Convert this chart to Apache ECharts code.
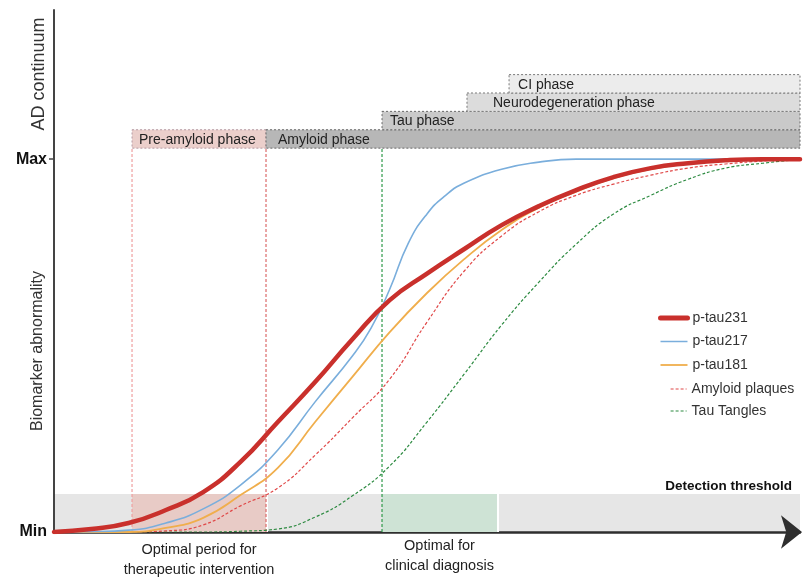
<!DOCTYPE html>
<html><head><meta charset="utf-8">
<script src="https://cdn.jsdelivr.net/npm/echarts@6/dist/echarts.min.js"></script>
<style>html,body{margin:0;padding:0;background:#fff}#c{width:803px;height:577px}</style>
</head><body><div id="c"></div>
<script>
// ---------- data ----------
const xVals = [0,5,10,15,20,25,30,35,40,45,50,55,60,65,70,75,80,85,90,95,100];
const pTau231 = [0,0.008,0.024,0.059,0.107,0.188,0.295,0.402,0.517,0.622,0.693,0.759,0.823,0.874,0.917,0.952,0.976,0.989,0.997,1.0,1.0];
const pTau217X = [0,5,10,15,20,25,30,35,40,42.5,45,47.5,50,52.5,55,60,65,70,75,80,85,90,95,100];
const pTau217 = [0,0.001,0.005,0.024,0.062,0.126,0.22,0.349,0.472,0.547,0.651,0.775,0.853,0.903,0.936,0.973,0.992,1.0,1.0,1.0,1.0,1.0,1.0,1.0];
const pTau181 = [0,0,0,0.011,0.038,0.099,0.172,0.295,0.416,0.536,0.641,0.732,0.81,0.87,0.913,0.949,0.973,0.989,0.997,0.999,1.0];
const amyloidPlaques = [0,0,0,0.003,0.019,0.07,0.118,0.206,0.306,0.41,0.563,0.70,0.794,0.859,0.903,0.933,0.957,0.976,0.987,0.995,1.0];
const tauTangles = [0,0,0,0,0,0.002,0.008,0.04,0.097,0.177,0.295,0.424,0.555,0.67,0.772,0.853,0.903,0.946,0.976,0.989,1.0];

const phaseNames = ['Pre-amyloid phase','Amyloid phase','Tau phase','Neurodegeneration phase','CI phase'];
const phaseStart = [10.46,28.42,43.97,55.36,61.0];
const phaseEnd = [28.42,100,100,100,100];
const phaseRow = [0,0,1,2,3];

const windowNames = ['Optimal period for\ntherapeutic intervention','Optimal for\nclinical diagnosis'];
const windowStart = [10.46,43.97];
const windowEnd = [28.42,59.38];
const detectionThreshold = 0.102;
const detectionLabel = 'Detection threshold';
const markerLines = [10.46,28.42,43.97];

const yTickValues = [0,1];
const yTickLabels = ['Min','Max'];

// ---------- styles ----------
const FONT = '"Liberation Sans", Arial, Helvetica, sans-serif';
const phaseFill = ['#ebcfcb','#b7b7b7','#c9c9c9','#dcdcdc','#ececec'];
const phaseBorder = ['#b59aa3','#6a6a6a','#6a6a6a','#7a7a7a','#7a7a7a'];
const phaseTextPad = [7,12,8,26,9];
const PHASE_BASE = 1.0295, PHASE_H = 0.0493;
const windowFill = ['#e8cbc6','#cee3d5'];
const windowLabelOffset = [8,4];
const markerColors = ['#efa0a0','#dc6a6a','#2f9a4a'];

const pairs = (xs, arr) => xs.map((x,i)=>[x,arr[i]]);

const chart = echarts.init(document.getElementById('c'), null, {renderer:'canvas'});
const legendCommon = {orient:'vertical',itemHeight:14,padding:0,selectedMode:false,
  itemStyle:{opacity:0,borderWidth:0},
  textStyle:{fontSize:14,color:'#333',fontFamily:FONT}};
chart.setOption({
  animation:false,
  grid:{left:54,right:3,top:10,bottom:45,containLabel:false},
  xAxis:{type:'value',min:0,max:100,
    axisLine:{show:true,symbol:['none','arrow'],symbolSize:[25,21],symbolOffset:[0,2],lineStyle:{color:'#2e2e2e',width:2.5}},
    axisTick:{show:false},axisLabel:{show:false},splitLine:{show:false}},
  yAxis:{type:'value',min:0,max:1.4,
    axisLine:{show:true,lineStyle:{color:'#444',width:2}},
    axisTick:{show:true,customValues:[1],length:5,lineStyle:{color:'#444',width:1.5}},
    axisLabel:{customValues:yTickValues,formatter:v=>{const k=yTickValues.indexOf(v);return k<0?'':yTickLabels[k];},
      fontWeight:'bold',fontSize:16,color:'#111',margin:7,fontFamily:FONT},
    splitLine:{show:false}},
  legend:[
    Object.assign({data:[{name:'p-tau231',lineStyle:{width:5,cap:'round',color:'#c9302c'}},
                         {name:'p-tau217',lineStyle:{width:1.5,color:'#7aaedc'}},
                         {name:'p-tau181',lineStyle:{width:1.8,color:'#f0ae4c'}}],
                   left:658,top:311,itemWidth:27,itemGap:9.5},legendCommon),
    Object.assign({data:[{name:'Amyloid plaques',lineStyle:{width:1.2,type:[3,2],color:'#e04848'}},
                         {name:'Tau Tangles',lineStyle:{width:1.2,type:[3,2],color:'#2c8a40'}}],
                   left:670,top:382,itemWidth:16,itemGap:8},legendCommon)
  ],
  graphic:[
    {type:'text',x:39,y:74,rotation:Math.PI/2,style:{text:'AD continuum',font:'18px '+FONT,fill:'#333',align:'center',verticalAlign:'middle'}},
    {type:'text',x:38,y:351,rotation:Math.PI/2,style:{text:'Biomarker abnormality',font:'16px '+FONT,fill:'#333',align:'center',verticalAlign:'middle'}}
  ],
  series:[
    {type:'custom',name:'band',z:0,silent:true,clip:false,
      data:[[0,100,detectionThreshold]],
      renderItem:(params,api)=>{
        const p0=api.coord([api.value(0),0]), p1=api.coord([api.value(1),api.value(2)]);
        return {type:'group',children:[
          {type:'rect',shape:{x:p0[0],y:p1[1],width:p1[0]-p0[0],height:p0[1]-p1[1]},style:{fill:'#e6e6e6'}},
          {type:'text',x:p1[0]-8,y:p1[1]-1,style:{text:detectionLabel,font:'bold 13.5px '+FONT,fill:'#111',align:'right',verticalAlign:'bottom'}}
        ]};
      }},
    {type:'custom',name:'windows',z:1,silent:true,clip:false,
      data:windowNames.map((n,i)=>[windowStart[i],windowEnd[i],detectionThreshold,i]),
      renderItem:(params,api)=>{
        const i=api.value(3);
        const p0=api.coord([api.value(0),0]), p1=api.coord([api.value(1),api.value(2)]);
        return {type:'group',children:[
          {type:'rect',shape:{x:p0[0],y:p1[1],width:p1[0]-p0[0],height:p0[1]-p1[1]},style:{fill:windowFill[i]}},
          {type:'line',shape:{x1:p1[0]+1,y1:p1[1],x2:p1[0]+1,y2:p0[1]},style:{stroke:'#fff',lineWidth:2}},
          {type:'text',x:(p0[0]+p1[0])/2,y:p0[1]+windowLabelOffset[i],style:{text:windowNames[i],font:'14.5px '+FONT,lineHeight:20,fill:'#222',align:'center',verticalAlign:'top'}}
        ]};
      }},
    {type:'custom',name:'phases',z:2,silent:true,clip:false,
      data:phaseNames.map((n,i)=>[phaseStart[i],phaseEnd[i],phaseRow[i],i]),
      renderItem:(params,api)=>{
        const i=api.value(3), r=api.value(2);
        const p0=api.coord([api.value(0),PHASE_BASE+r*PHASE_H]);
        const p1=api.coord([api.value(1),PHASE_BASE+(r+1)*PHASE_H]);
        return {type:'group',children:[
          {type:'rect',shape:{x:p0[0],y:p1[1],width:p1[0]-p0[0],height:p0[1]-p1[1]},style:{fill:phaseFill[i],stroke:phaseBorder[i],lineWidth:1,lineDash:[2,2]}},
          {type:'text',x:p0[0]+phaseTextPad[i],y:(p0[1]+p1[1])/2+1,style:{text:phaseNames[i],font:'14px '+FONT,fill:'#222',align:'left',verticalAlign:'middle'}}
        ]};
      }},
    {type:'custom',name:'markers',z:3,silent:true,clip:false,
      data:markerLines.map((x,i)=>[x,i]),
      renderItem:(params,api)=>{
        const i=api.value(1);
        const p0=api.coord([api.value(0),0]), p1=api.coord([api.value(0),PHASE_BASE]);
        return {type:'line',shape:{x1:p0[0],y1:p0[1],x2:p1[0],y2:p1[1]},style:{stroke:markerColors[i],lineWidth:1.2,lineDash:[3,2]}};
      }},
    {name:'Tau Tangles',type:'line',data:pairs(xVals,tauTangles),smooth:0.5,symbol:'none',z:4,color:'#2c8a40',lineStyle:{color:'#2c8a40',width:1.2,type:[3,2]}},
    {name:'Amyloid plaques',type:'line',data:pairs(xVals,amyloidPlaques),smooth:0.5,symbol:'none',z:4,color:'#e04848',lineStyle:{color:'#e04848',width:1.2,type:[3,2]}},
    {name:'p-tau181',type:'line',data:pairs(xVals,pTau181),smooth:0.5,symbol:'none',z:5,color:'#f0ae4c',lineStyle:{color:'#f0ae4c',width:1.8}},
    {name:'p-tau217',type:'line',data:pairs(pTau217X,pTau217),smooth:0.5,symbol:'none',z:5,color:'#7aaedc',lineStyle:{color:'#7aaedc',width:1.6}},
    {name:'p-tau231',type:'line',data:pairs(xVals,pTau231),smooth:0.5,symbol:'none',z:6,color:'#c9302c',lineStyle:{color:'#c9302c',width:4.5,cap:'round'}}
  ]
});
</script>
</body></html>
